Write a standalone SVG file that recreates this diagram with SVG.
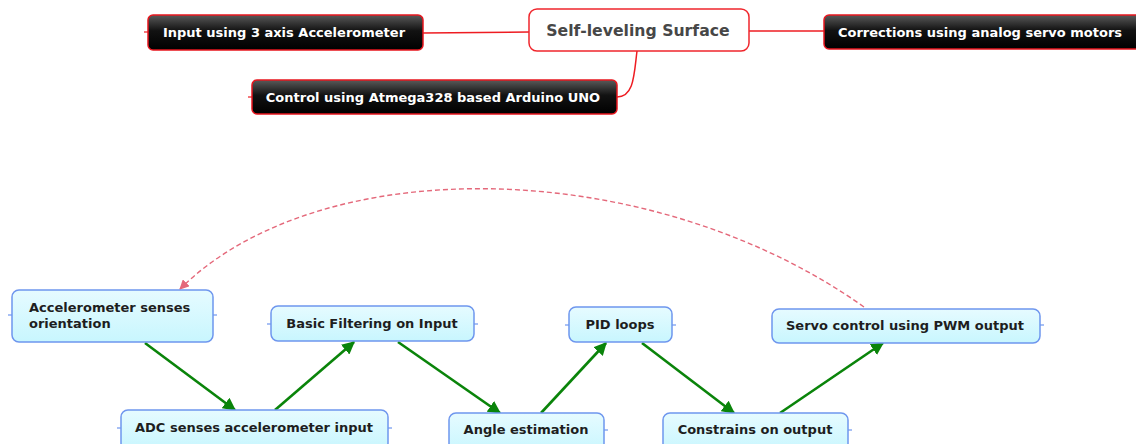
<svg xmlns="http://www.w3.org/2000/svg" width="1136" height="444" viewBox="0 0 1136 444">
  <style>
    .dark { stroke: #e8161e; stroke-width: 1.5; fill: url(#gloss); }
    .dark-t { font-family: "DejaVu Sans", Verdana, sans-serif; font-weight: bold; font-size: 13px; fill: #ffffff; }
    .root { fill: #ffffff; stroke: #f0262c; stroke-width: 1.5; }
    .root-t { font-family: "DejaVu Sans", Verdana, sans-serif; font-weight: bold; font-size: 15.7px; fill: #474747; }
    .step { fill: url(#sky); stroke: #6e96ee; stroke-width: 1.5; }
    .step-t { font-family: "DejaVu Sans", Verdana, sans-serif; font-weight: bold; font-size: 13px; fill: #1e1e1e; }
    .branch { stroke: #ee1c22; stroke-width: 1.5; fill: none; }
    .flow { stroke: #0a840a; stroke-width: 2.6; fill: none; marker-end: url(#green-head); }
    .loop { stroke: #e4687a; stroke-width: 1.4; fill: none; stroke-dasharray: 5 3; marker-end: url(#pink-head); }
    .tick { stroke: #6e96ee; stroke-width: 1.2; }
    .rtick { stroke: #ee1c22; stroke-width: 1.2; }
  </style>
  <defs>
    <linearGradient id="gloss" x1="0" y1="0" x2="0" y2="1">
      <stop offset="0" stop-color="#5a5a5a"/>
      <stop offset="0.45" stop-color="#121212"/>
      <stop offset="1" stop-color="#000000"/>
    </linearGradient>
    <linearGradient id="sky" x1="0" y1="0" x2="0" y2="1">
      <stop offset="0" stop-color="#e6fbff"/>
      <stop offset="1" stop-color="#c8f6fe"/>
    </linearGradient>
    <marker id="green-head" viewBox="0 0 10 10" refX="9" refY="5" markerWidth="5" markerHeight="5" orient="auto" markerUnits="strokeWidth">
      <path d="M0,0 L10,5 L0,10 z" fill="#0a840a"/>
    </marker>
    <marker id="pink-head" viewBox="0 0 10 10" refX="9" refY="5" markerWidth="7" markerHeight="7" orient="auto" markerUnits="strokeWidth">
      <path d="M0,0 L10,5 L0,10 z" fill="#e4687a"/>
    </marker>
  </defs>

  <!-- mind-map branches and process flow -->
  <g id="connectors">
    <path class="branch" d="M423,33 L529,32"/>
    <path class="branch" d="M749,31 L824,31"/>
    <path class="branch" d="M637,51 C634,75 634,97 617,97"/>
    <line class="flow" x1="145" y1="343" x2="235" y2="410"/>
    <line class="flow" x1="275" y1="410" x2="354" y2="342"/>
    <line class="flow" x1="398" y1="342" x2="500" y2="413"/>
    <line class="flow" x1="541" y1="413" x2="606" y2="343"/>
    <line class="flow" x1="642" y1="343" x2="734" y2="413"/>
    <line class="flow" x1="780" y1="413" x2="883" y2="343"/>
    <path class="loop" d="M864,307 C650,155 320,150 180,289"/>
  </g>

  <g id="root">
    <rect class="root" x="529" y="9" width="220" height="42" rx="8"/>
    <text class="root-t" x="638" y="35.5" text-anchor="middle">Self-leveling Surface</text>
  </g>

  <g id="input">
    <line class="rtick" x1="144" y1="32" x2="148" y2="32"/>
    <rect class="dark" x="148" y="15" width="275" height="35" rx="5"/>
    <text class="dark-t" x="284" y="37" text-anchor="middle">Input using 3 axis Accelerometer</text>
  </g>

  <g id="corrections">
    <rect class="dark" x="824" y="15" width="316" height="34" rx="5"/>
    <text class="dark-t" x="980" y="36.5" text-anchor="middle">Corrections using analog servo motors</text>
  </g>

  <g id="control">
    <line class="rtick" x1="248" y1="97" x2="252" y2="97"/>
    <rect class="dark" x="252" y="80" width="365" height="34" rx="5"/>
    <text class="dark-t" x="433" y="102" text-anchor="middle">Control using Atmega328 based Arduino UNO</text>
  </g>

  <g id="accel">
    <line class="tick" x1="8" y1="315" x2="12" y2="315"/>
    <line class="tick" x1="213" y1="315" x2="217" y2="315"/>
    <rect class="step" x="12" y="290" width="201" height="52" rx="7"/>
    <text class="step-t" x="29" y="312">Accelerometer senses</text>
    <text class="step-t" x="29" y="328">orientation</text>
  </g>

  <g id="adc">
    <line class="tick" x1="117" y1="428" x2="121" y2="428"/>
    <line class="tick" x1="388" y1="428" x2="392" y2="428"/>
    <rect class="step" x="121" y="410" width="267" height="40" rx="7"/>
    <text class="step-t" x="254" y="432" text-anchor="middle">ADC senses accelerometer input</text>
  </g>

  <g id="filter">
    <line class="tick" x1="267" y1="324" x2="271" y2="324"/>
    <line class="tick" x1="474" y1="324" x2="478" y2="324"/>
    <rect class="step" x="271" y="306" width="203" height="35" rx="7"/>
    <text class="step-t" x="372" y="328" text-anchor="middle">Basic Filtering on Input</text>
  </g>

  <g id="angle">
    <line class="tick" x1="604" y1="430" x2="608" y2="430"/>
    <rect class="step" x="449" y="413" width="155" height="40" rx="7"/>
    <text class="step-t" x="526" y="434" text-anchor="middle">Angle estimation</text>
  </g>

  <g id="pid">
    <line class="tick" x1="565" y1="325" x2="569" y2="325"/>
    <line class="tick" x1="672" y1="325" x2="676" y2="325"/>
    <rect class="step" x="569" y="307" width="103" height="35" rx="7"/>
    <text class="step-t" x="620" y="329" text-anchor="middle">PID loops</text>
  </g>

  <g id="constrain">
    <line class="tick" x1="848" y1="430" x2="852" y2="430"/>
    <rect class="step" x="663" y="413" width="185" height="40" rx="7"/>
    <text class="step-t" x="755" y="434" text-anchor="middle">Constrains on output</text>
  </g>

  <g id="servo">
    <line class="tick" x1="1040" y1="325" x2="1044" y2="325"/>
    <rect class="step" x="772" y="309" width="268" height="34" rx="7"/>
    <text class="step-t" x="905" y="330" text-anchor="middle">Servo control using PWM output</text>
  </g>
</svg>
